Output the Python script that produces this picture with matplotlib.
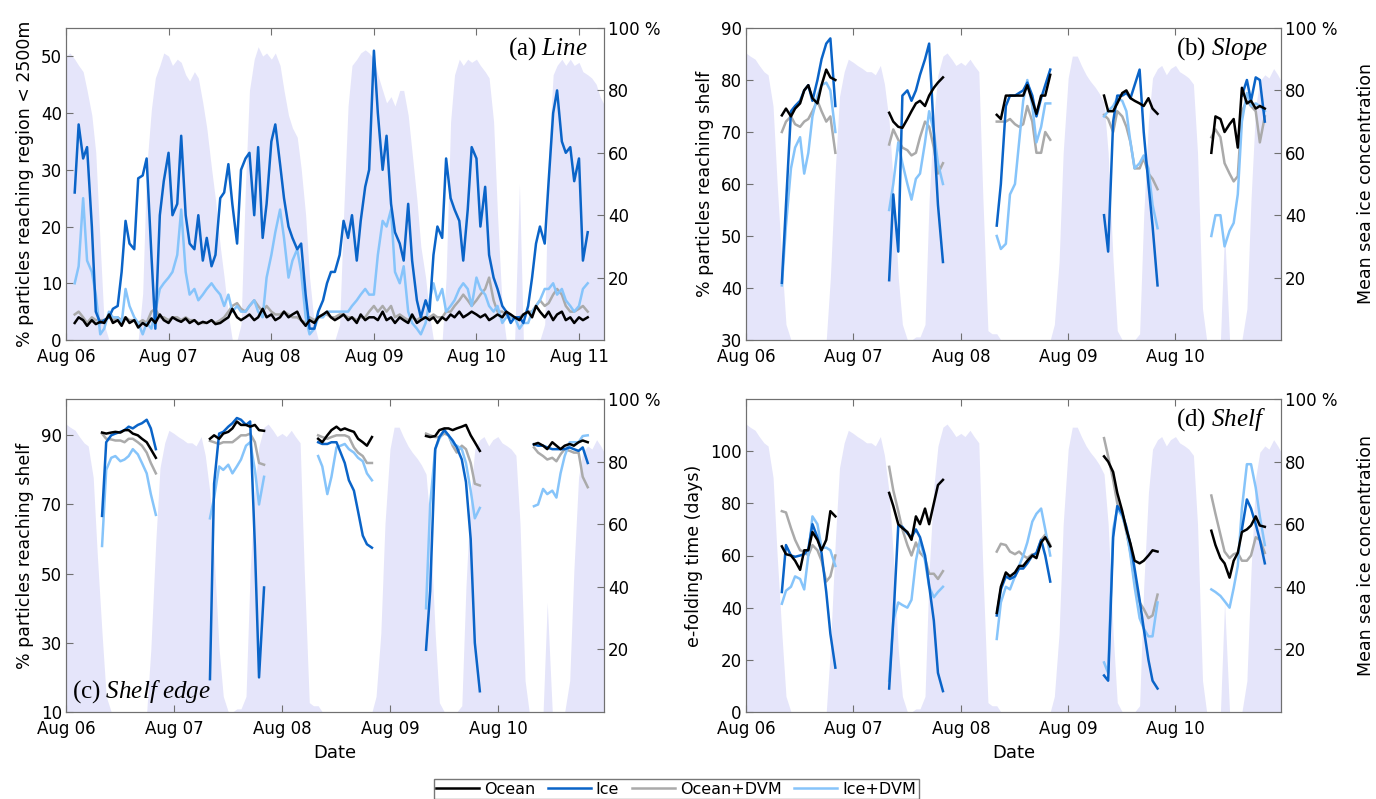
import numpy as np
import pandas as pd
import matplotlib
matplotlib.use("Agg")
import matplotlib.pyplot as plt
import matplotlib.dates as mdates
from matplotlib.lines import Line2D

plt.rcParams["font.family"] = ["DejaVu Sans"]
plt.rcParams["mathtext.fontset"] = "custom"
plt.rcParams["mathtext.rm"] = "Liberation Serif"
plt.rcParams["mathtext.it"] = "Liberation Serif:italic"

# ---------------- time axes (half-monthly) ----------------
dates_a = pd.date_range("2006-08-01", periods=127, freq="SMS")
dates = pd.date_range("2006-08-01", periods=121, freq="SMS")
seg_start = [8, 32, 56, 80, 104]   # index of first point of each segment (b-d)
line_start = 2                       # index of first point in panel (a)

# ---------------- (a) Line ----------------
line_ocean = [3, 4, 3.5, 2.5, 3.5, 2.8, 3.2, 3, 4.5, 3, 3.5,
              2.5, 4, 3, 3.5, 2.2, 3, 2.5, 3.8, 3, 4.5, 3.5, 3,
              4, 3.5, 3.2, 3.8, 3, 3.5, 2.8, 3.2, 3, 3.5, 2.8, 3,
              3.5, 4, 5.5, 4, 3.5, 4, 4.5, 3.5, 4, 5.5, 4, 4.5,
              3.5, 4, 5, 4, 4.5, 5, 3.5, 2.5, 3.5, 3, 4, 4.5,
              5, 4, 3.5, 4, 4.5, 3.5, 4, 3, 4.5, 3.5, 4, 4,
              3.5, 5, 3.5, 4, 3, 4, 3.5, 3, 4.5, 3, 3.5, 4,
              3.5, 4, 3, 4, 3.5, 4.5, 4, 5, 4, 4.5, 5, 4.5,
              4, 4.5, 3.5, 4, 4.5, 4, 5, 4.5, 4, 3.5, 4.5, 5,
              4, 6, 5, 4, 5, 3.5, 4.5, 5, 3.5, 4, 3, 4, 3.5, 4]
line_ice = [26, 38, 32, 34, 20, 5, 3, 3.5, 4, 5.5, 6,
            12, 21, 17, 16, 28.5, 29, 32, 15, 2, 22, 28, 33,
            22, 24, 36, 22, 17, 16, 22, 14, 18, 13, 15, 25,
            26, 31, 24, 17, 30, 32, 33, 22, 34, 18, 24, 35,
            38, 31, 25, 20, 18, 16, 17, 8, 2, 2, 5, 7,
            10, 12, 12, 15, 21, 18, 22, 14, 21, 27, 30, 51,
            40, 30, 36, 24, 19, 17, 14, 24, 14, 7, 4, 7,
            5, 15, 20, 18, 32, 25, 23, 21, 14, 23, 34, 32,
            20, 27, 15, 11, 9, 6, 5, 3, 4, 4, 3, 6,
            11, 17, 20, 17, 28, 40, 44, 35, 33, 34, 28, 32, 14, 19]
line_ocean_dvm = [4.5, 5, 4, 3, 4, 3.5, 3.5, 3.5, 4, 3.5, 4,
                  3.5, 4, 3.5, 3.5, 3, 3.5, 3, 5, 5.5, 4, 4, 3.5,
                  4, 4, 3.5, 4, 3.5, 3.5, 3, 3, 3, 3.5, 3, 3.5,
                  4, 5, 6, 6.5, 5.5, 5, 6, 7, 6, 5, 6, 5,
                  4.5, 4.5, 5, 4.5, 4, 4, 3.5, 3, 4, 3.5, 4, 4.5,
                  4.5, 4, 4, 4.5, 4.5, 4, 4, 3.5, 4, 4, 5, 6,
                  5, 6, 5, 6, 4, 4.5, 4, 3.5, 4, 3.5, 4, 4,
                  4, 4.5, 4, 4, 5, 5, 6, 7, 8, 7, 6, 7,
                  8, 9, 11, 7, 5, 5, 4.5, 4, 4, 4, 4.5, 5,
                  5, 6, 7, 6, 6.5, 8, 9, 8, 6, 5, 5, 5.5, 6, 5]
line_ice_dvm = [10, 13, 25, 14, 12, 8, 1, 2, 5, 4, 4,
                3, 9, 6, 4, 3, 1, 3, 2, 5, 9, 10, 11,
                12, 15, 23, 12, 8, 9, 7, 8, 9, 10, 9, 8,
                6, 8, 5, 6, 5, 5, 6, 7, 5, 4, 11, 15,
                19, 23, 18, 11, 14, 16, 12, 4, 1, 2, 4, 4,
                5, 5, 5, 5, 5, 5, 6, 7, 8, 9, 8, 8,
                15, 21, 20, 23, 12, 10, 13, 5, 3, 2, 1, 3,
                7, 10, 7, 9, 5, 6, 7, 9, 10, 9, 6, 11,
                9, 8, 6, 5, 6, 3, 4, 4, 4, 2, 3, 3,
                5, 6, 7, 9, 9, 10, 8, 9, 7, 6, 5, 6, 9, 10]
seaice_a = [91, 92, 90, 88, 86, 80, 72, 60, 30, 5, 0, 0, 0,
            0, 0, 0, 0, 0, 15, 55, 74, 84, 88, 92, 91, 88,
            90, 89, 85, 83, 86, 84, 76, 68, 55, 45, 30, 20, 8,
            0, 0, 5, 50, 80, 90, 94, 91, 92, 90, 92, 88, 80,
            72, 68, 65, 55, 40, 20, 5, 0, 0, 0, 0, 0, 5,
            40, 75, 88, 90, 92, 93, 92, 90, 85, 80, 76, 78, 75,
            80, 80, 72, 60, 45, 30, 20, 8, 0, 0, 0, 20, 70,
            85, 90, 88, 90, 89, 90, 88, 86, 84, 70, 40, 10, 0,
            0, 0, 50, 0, 0, 0, 0, 0, 5, 60, 85, 88, 90,
            88, 90, 88, 89, 86, 85, 84, 82, 78, 75]

# ---------------- sea ice for (b)-(d) ----------------
seaice = [92, 91, 90, 88, 86, 85, 75, 50, 25, 5, 0, 0, 0,
          0, 0, 0, 0, 0, 0, 20, 55, 78, 86, 90, 89, 88,
          87, 86, 86, 85, 88, 82, 70, 50, 20, 5, 0, 0, 1,
          1, 5, 45, 72, 85, 91, 92, 90, 88, 89, 88, 90, 88,
          86, 45, 3, 2, 2, 0, 0, 0, 0, 0, 0, 0, 0,
          0, 0, 0, 0, 5, 25, 60, 84, 91, 91, 88, 85, 83,
          81, 79, 76, 60, 25, 3, 0, 0, 0, 0, 2, 40, 70,
          84, 87, 88, 85, 87, 88, 86, 85, 84, 82, 60, 10, 0,
          0, 0, 0, 35, 0, 0, 0, 0, 10, 45, 75, 83, 85,
          84, 87, 85, 82]

# ---------------- (b) Slope ----------------
slope_ocean = [[73.2, 74.5, 73, 74.5, 75.5, 78, 79, 76.5, 75.5, 79, 82, 80.5, 80],
               [73.7, 72, 71, 70.8, 72.5, 74, 75.5, 76, 75, 77, 78.5, 79.5, 80.5],
               [73.3, 72.5, 77, 77, 77, 77, 77, 79, 76, 73.5, 77, 77, 81],
               [77, 74, 74, 75.5, 77.5, 78, 76.5, 76, 75.5, 75, 76.5, 74.5, 73.5],
               [66, 73, 72.5, 70, 71.5, 72.5, 67, 78.5, 75.5, 76, 74.5, 75, 74.5]]
slope_ice = [[41, 56, 74, 75, 76, 78, 79, 76, 80, 84, 87, 88, 75],
             [41.5, 58, 47, 77, 78, 76, 78, 81, 84, 87, 70, 56, 45],
             [52, 60, 75, 77, 77, 77.5, 78, 79.5, 77, 73, 76.5, 79, 82],
             [54, 47, 72, 77, 77, 77.5, 76.5, 79, 82, 70, 60, 52, 40.5],
             [None] * 7 + [77, 80, 76, 80.5, 80, 72]]
slope_ocean_dvm = [[70, 72, 73, 71.5, 71, 72, 72.5, 74, 76, 74, 72, 73, 66],
                   [67.6, 70.5, 68.5, 67, 66.5, 65.5, 66, 69, 72, 71, 67, 62, 64],
                   [72, 72, 72, 72.5, 71.5, 71, 71.5, 75, 72, 66, 66, 70, 68.5],
                   [73.3, 72.5, 70, 74, 73, 71, 68, 63, 63, 65, 62, 61, 59],
                   [69, 70.5, 69, 64, 62, 60.5, 61.5, 74, 76, 75, 74, 68, 73]]
slope_ice_dvm = [[40.5, 52, 63, 67, 69, 62, 66, 73, 77, 79, 79.5, 78, 70],
                 [55, 60, 68, 64, 60, 57, 61, 62, 68, 74, 70, 64, 60],
                 [50, 47.5, 48.5, 58, 60, 68, 76, 80, 75, 68, 71, 75.5, 75.5],
                 [73, 74, 75, 76.5, 76, 74, 68, 63, 64, 65.5, 63, 56, 51.5],
                 [50, 54, 54, 48, 51, 52.5, 58, 72, 77.5, 75, 75.5, 75, 74]]

# ---------------- (c) Shelf edge ----------------
edge_ocean = [[90.8, 90.5, 90.8, 91, 90.8, 91.5, 91.5, 90.5, 90, 89, 88, 86, 83.5],
              [89, 90, 89, 90.5, 91, 92, 94, 93, 93, 92.5, 93, 91.5, 91.3],
              [89, 88, 90, 91.5, 92.5, 91.5, 92, 91.5, 91, 89, 88, 87, 89.5],
              [89.8, 89.5, 89.8, 91.5, 92, 92, 91.5, 92, 92.5, 93, 90, 88, 85.5],
              [87.4, 87.8, 87, 86, 88, 87, 86, 87, 87.5, 87, 88, 88.5, 88]]
edge_ice = [[66.7, 88, 90, 90.5, 91, 91.5, 92.5, 92, 93, 93.5, 94.5, 92, 86],
            [19.5, 76, 90.5, 91, 92.5, 93.5, 95, 94.5, 93, 94, 58, 20, 46],
            [88, 87.5, 87.5, 88, 88, 85, 82, 77, 74, 68, 61, 58.5, 57.5],
            [28, 45, 86, 89.5, 91.5, 90, 88.5, 86.5, 83, 76.5, 60, 30, 16],
            [87.4, 87, 87, 86.5, 86, 86, 86, 86, 86.5, 86, 85.5, 86.5, 82]]
edge_ocean_dvm = [[90.5, 89, 88.8, 88.5, 88.5, 88, 89, 89, 88, 87, 85, 82, 79],
                  [88.4, 88, 87.5, 88, 88, 88, 89, 90, 90, 90.5, 88, 82, 81.5],
                  [90, 89.5, 89, 89.5, 90, 90, 90, 89.5, 86.5, 85, 84, 82, 82],
                  [90.5, 90, 89.5, 89.5, 90.5, 90, 87, 85, 87, 86, 82, 76, 75.5],
                  [86.5, 85, 84, 83, 83.5, 82.5, 84.5, 86, 85.5, 85, 85, 78, 75]]
edge_ice_dvm = [[58, 80, 83.5, 84, 82.5, 83, 84, 86, 84.5, 82, 79, 73, 67],
                [66, 72, 81, 80, 81.5, 79, 81, 83, 87, 88, 80, 70, 78],
                [84, 81, 73, 78, 86.5, 87, 87.5, 86, 85, 83.5, 82.5, 79, 77],
                [40, 70, 86, 89, 91.5, 90, 87.5, 87, 86, 82, 74, 66, 69],
                [69.5, 70, 74.5, 73, 74, 72, 79, 84, 88, 88, 88, 89.8, 90]]

# ---------------- (d) Shelf ----------------
shelf_ocean = [[63.5, 60.5, 60, 58, 54.5, 62, 62, 69, 66, 62, 66, 77, 75],
               [84, 79, 72, 70.5, 69, 66, 75, 72, 78, 72, 80, 87, 89],
               [38, 48, 53.5, 52, 53.5, 56, 56, 58, 60, 59, 65, 67, 63.5],
               [98, 96, 92, 84, 77, 70, 64.5, 58, 57, 58, 60, 62, 61.5],
               [69.5, 64, 59, 57, 51.5, 58, 61, 69, 70, 71.5, 75, 71.5, 71]]
shelf_ice = [[46, 64, 60, 59.5, 60, 60.5, 62.5, 72, 67, 61, 46, 30, 17],
             [9, 35, 71.5, 71, 68.5, 67, 70, 67, 60, 48.5, 35, 15, 8],
             [37, 47, 52, 51, 52, 55, 55, 57, 60, 61, 66, 60, 50],
             [14, 12, 67, 79, 76, 71, 64, 55, 43, 32, 20, 12, 9],
             [None] * 7 + [70, 81.5, 78, 72, 66, 57]]
shelf_ocean_dvm = [[77, 76.5, 70.5, 66, 62, 61.5, 60, 64, 62, 58, 50, 52, 60],
                   [94, 85, 77, 70, 64, 60, 65, 61, 59, 53, 53, 51, 54],
                   [61.5, 64.5, 64, 61.5, 60.5, 61.5, 60, 59, 60.5, 60.5, 66, 68, 64],
                   [105, 98, 89, 80, 76, 69, 61, 50, 42, 39.5, 36, 37, 45],
                   [83, 76, 68, 61.5, 59, 60.5, 61, 58, 58, 60, 67, 66, 61]]
shelf_ice_dvm = [[41.5, 46.5, 48, 52, 51, 47, 60, 75, 72, 63, 63, 62, 56],
                 [12, 35, 42, 41, 40, 43, 58, 66, 58, 48, 44, 46, 48],
                 [28, 42, 48, 47, 52, 56, 60, 65, 73, 76, 78, 70, 60],
                 [19, 15, 70, 78, 75, 70, 60, 48, 36, 32, 29, 29, 42],
                 [47, 46, 44.5, 42.5, 40, 47.5, 56, 78, 95, 95, 86, 75, 64]]

names = ["Ocean", "Ice", "Ocean+DVM", "Ice+DVM"]
colors = {"Ocean": "black", "Ice": "#0a64c8", "Ocean+DVM": "#aaaaaa", "Ice+DVM": "#86c4fa"}
shade = "#e5e5fa"
frame = "#707070"


def full_line(vals, start, n):
    arr = np.full(n, np.nan)
    v = np.array([np.nan if x is None else x for x in vals], dtype=float)
    arr[start:start + len(v)] = v
    return arr


def segments(segs, n):
    arr = np.full(n, np.nan)
    for s, vals in zip(seg_start, segs):
        arr[s:s + len(vals)] = [np.nan if x is None else x for x in vals]
    return arr


W, H = 1376, 799


def rect(l, t, r, b):
    return [l / W, 1 - b / H, (r - l) / W, (b - t) / H]


fig = plt.figure(figsize=(W / 100, H / 100), dpi=100)


def panel(rc, x, ice, data, ylim, yticks, ylabel, tag, tag_xy, tag_ha,
          xend, right_label=False, xlabel=False):
    ax = fig.add_axes(rc)
    ax2 = ax.twinx()
    ax2.fill_between(x, 0, ice, color=shade, lw=0)
    ax2.set_ylim(0, 100)
    ax2.set_yticks([20, 40, 60, 80, 100])
    ax2.set_yticklabels(["20", "40", "60", "80", "100 %"])
    ax.set_zorder(ax2.get_zorder() + 1)
    ax.patch.set_visible(False)

    for nm in ["Ocean+DVM", "Ice+DVM", "Ice", "Ocean"]:
        ax.plot(x, data[nm], color=colors[nm], lw=1.8)

    ax.set_xlim(pd.Timestamp("2006-08-01"), pd.Timestamp(xend))
    ax.set_ylim(*ylim)
    ax.set_yticks(yticks)
    ax.xaxis.set_major_locator(mdates.YearLocator(1, month=8, day=1))
    ax.xaxis.set_major_formatter(mdates.DateFormatter("%b %y"))
    for a in (ax, ax2):
        a.tick_params(direction="in", length=5, color=frame, labelsize=12, pad=3)
        for sp in a.spines.values():
            sp.set_color(frame)
    ax.tick_params(axis="x", top=True, pad=6)
    ax.set_ylabel(ylabel, fontsize=12.5, labelpad=5)
    if right_label:
        ax2.set_ylabel("Mean sea ice concentration", fontsize=12.5, labelpad=14)
    if xlabel:
        ax.set_xlabel("Date", fontsize=13, labelpad=4)
    ax.text(tag_xy[0], tag_xy[1], tag, transform=ax.transAxes, ha=tag_ha,
            va="center", fontsize=18, family="Liberation Serif")
    return ax


panel(rect(66, 28, 604, 340), dates_a, seaice_a,
      {"Ocean": full_line(line_ocean, line_start, 127),
       "Ice": full_line(line_ice, line_start, 127),
       "Ocean+DVM": full_line(line_ocean_dvm, line_start, 127),
       "Ice+DVM": full_line(line_ice_dvm, line_start, 127)},
      (0, 55), [0, 10, 20, 30, 40, 50], "% particles reaching region < 2500m",
      r"(a) $\mathit{Line}$", (0.97, 0.935), "right", "2011-10-29")

panel(rect(746, 28, 1281, 340), dates, seaice,
      {"Ocean": segments(slope_ocean, 121), "Ice": segments(slope_ice, 121),
       "Ocean+DVM": segments(slope_ocean_dvm, 121), "Ice+DVM": segments(slope_ice_dvm, 121)},
      (30, 90), [30, 40, 50, 60, 70, 80, 90], "% particles reaching shelf",
      r"(b) $\mathit{Slope}$", (0.976, 0.935), "right", "2011-07-26", right_label=True)

panel(rect(66, 399, 604, 712), dates, seaice,
      {"Ocean": segments(edge_ocean, 121), "Ice": segments(edge_ice, 121),
       "Ocean+DVM": segments(edge_ocean_dvm, 121), "Ice+DVM": segments(edge_ice_dvm, 121)},
      (10, 100.5), [10, 30, 50, 70, 90], "% particles reaching shelf",
      r"(c) $\mathit{Shelf\ edge}$", (0.011, 0.064), "left", "2011-07-26", xlabel=True)

panel(rect(746, 399, 1281, 712), dates, seaice,
      {"Ocean": segments(shelf_ocean, 121), "Ice": segments(shelf_ice, 121),
       "Ocean+DVM": segments(shelf_ocean_dvm, 121), "Ice+DVM": segments(shelf_ice_dvm, 121)},
      (0, 120), [0, 20, 40, 60, 80, 100], "e-folding time (days)",
      r"(d) $\mathit{Shelf}$", (0.972, 0.935), "right", "2011-07-26",
      right_label=True, xlabel=True)

handles = [Line2D([], [], color=colors[nm], lw=1.8) for nm in names]
leg = fig.legend(handles, names, loc="lower center", bbox_to_anchor=(0.4913, 0.0),
                 ncol=4, frameon=True, fancybox=False, fontsize=11.5,
                 handlelength=2.7, handletextpad=0.3, columnspacing=0.8,
                 borderpad=0.15, borderaxespad=0)
leg.get_frame().set_edgecolor("#555555")
leg.get_frame().set_linewidth(1.0)

fig.savefig("out.png", dpi=100)
